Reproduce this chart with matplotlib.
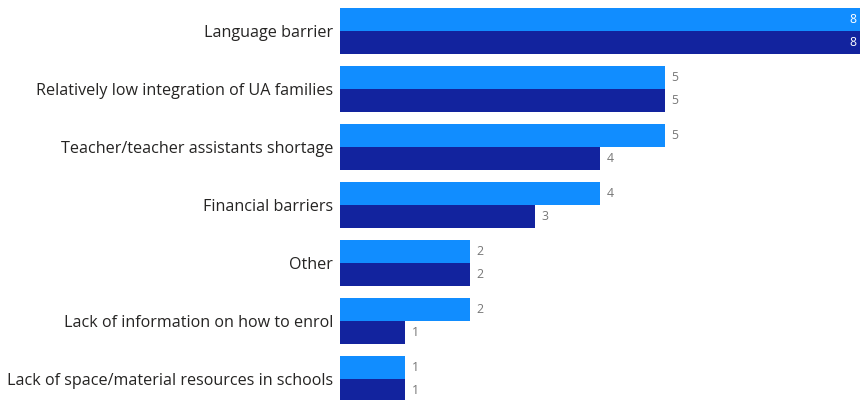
import matplotlib.pyplot as plt
import numpy as np

categories = [
    "Language barrier",
    "Relatively low integration of UA families",
    "Teacher/teacher assistants shortage",
    "Financial barriers",
    "Other",
    "Lack of information on how to enrol",
    "Lack of space/material resources in schools",
]
series_a = [8, 5, 5, 4, 2, 2, 1]
series_b = [8, 5, 4, 3, 2, 1, 1]

color_a = "#118DFF"
color_b = "#12239E"

plt.rcParams['font.family'] = ['Open Sans', 'DejaVu Sans']

fig = plt.figure(figsize=(8.6, 4.0), dpi=100)
ax = fig.add_axes([340 / 860, 0, 520 / 860, 1])

y = np.arange(len(categories))
h = 23 / 58
ax.barh(y - h / 2, series_a, height=h, color=color_a)
ax.barh(y + h / 2, series_b, height=h, color=color_b)

xmax = 8
ax.set_xlim(0, xmax)
ax.set_ylim(369 / 58, -31 / 58)

for vals, off in [(series_a, -h / 2), (series_b, h / 2)]:
    for i, v in enumerate(vals):
        if v >= xmax:
            ax.text(v - 0.06, i + off, str(v), ha='right', va='center',
                    color='white', fontsize=8.8)
        else:
            ax.text(v + 0.1, i + off, str(v), ha='left', va='center',
                    color='#777777', fontsize=8.8)

ax.set_yticks(y)
ax.set_yticklabels(categories, fontsize=11.6, color='#252423')
ax.tick_params(axis='y', length=0, pad=5)
ax.set_xticks([])
for s in ax.spines.values():
    s.set_visible(False)

fig.savefig("out.png", dpi=100)
